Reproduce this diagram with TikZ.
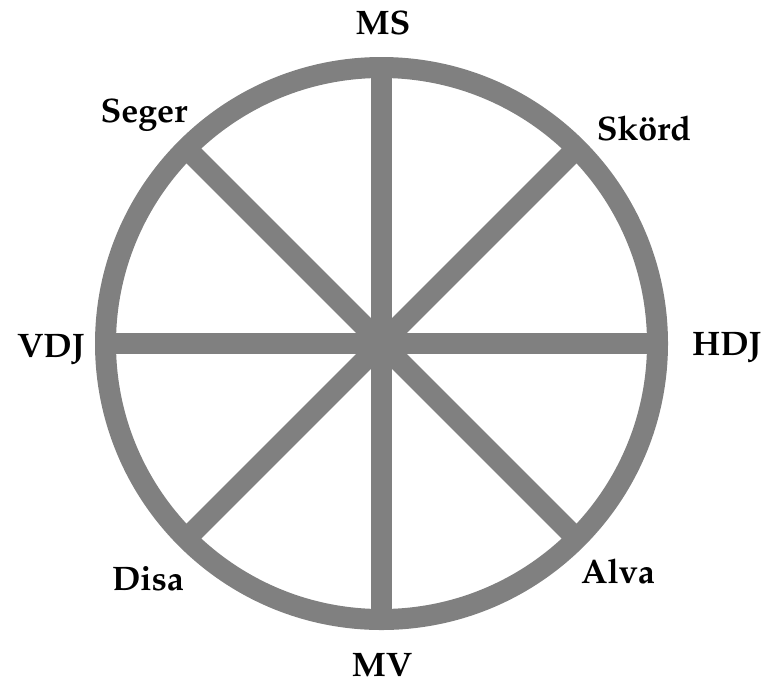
\documentclass[tikz,border=0pt]{standalone}
\usepackage[T1]{fontenc}
\usepackage{mathpazo}
\usetikzlibrary{calc}
\definecolor{wheelgray}{RGB}{128,128,128}
\begin{document}
\begin{tikzpicture}[x=1pt,y=-1pt,
  wheel/.style={draw=wheelgray, line width=21pt},
  lbl/.style={font=\fontsize{34}{38}\selectfont\bfseries, inner sep=0pt, anchor=base, text=black}]
\useasboundingbox (0,0) rectangle (767,681);
\coordinate (c) at (381.5,343.5);
\foreach \a in {0,45,...,315}{
  \coordinate (r\a) at ($(c)+(\a:276)$);
}
\draw[wheel] (c) circle[radius=276];
\draw[wheel] (r0) -- (r180);
\draw[wheel] (r45) -- (r225);
\draw[wheel] (r90) -- (r270);
\draw[wheel] (r135) -- (r315);
\node[lbl] (ms) at (383,34) {MS};
\node[lbl] (mv) at (382,676) {MV};
\node[lbl] (vdj) at (51,357) {VDJ};
\node[lbl] (hdj) at (727,355) {HDJ};
\node[lbl] (seger) at (144,122) {Seger};
\node[lbl] (skord) at (644,140) {Skörd};
\node[lbl] (alva) at (618,583) {Alva};
\node[lbl] (disa) at (148,590) {Disa};
\end{tikzpicture}
\end{document}
